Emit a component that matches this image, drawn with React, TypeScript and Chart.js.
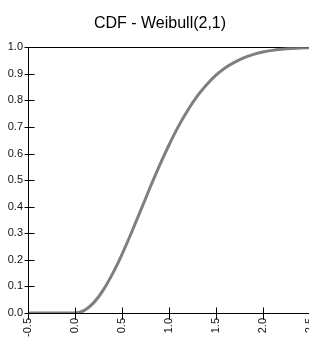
import React, { useEffect, useRef } from "react";
import { Chart, registerables } from "chart.js";

Chart.register(...registerables);

const TITLE = "CDF - Weibull(2,1)";
const xValues = [
  -0.5, -0.4, -0.3, -0.2, -0.1, 0.0, 0.1, 0.2, 0.3, 0.4, 0.5, 0.6, 0.7, 0.8, 0.9, 1.0,
  1.1, 1.2, 1.3, 1.4, 1.5, 1.6, 1.7, 1.8, 1.9, 2.0, 2.1, 2.2, 2.3, 2.4, 2.5,
];
const cdfValues = [
  0, 0, 0, 0, 0, 0, 0.01, 0.039, 0.086, 0.148, 0.221, 0.302, 0.387, 0.473, 0.555, 0.632,
  0.702, 0.763, 0.816, 0.859, 0.895, 0.923, 0.944, 0.961, 0.973, 0.982, 0.988, 0.992, 0.995,
  0.997, 0.998,
];
const xTickRange = [-0.5, 2.5];
const yTickRange = [0, 1];

const tickMarks = {
  id: "tickMarks",
  afterLayout(chart: any) {
    if (chart.titleBlock) {
      chart.titleBlock.left = 0;
      chart.titleBlock.right = chart.width;
    }
  },
  afterDraw(chart: any) {
    const { ctx, chartArea, scales } = chart;
    const xs = scales.x;
    const ys = scales.y;
    ctx.save();
    ctx.strokeStyle = "#000";
    ctx.lineWidth = 1;
    ctx.beginPath();
    const ax = Math.round(chartArea.left) + 0.5;
    ys.ticks.forEach((t: any) => {
      const py = Math.round(ys.getPixelForValue(t.value)) + 0.5;
      ctx.moveTo(ax - 4, py);
      ctx.lineTo(ax + 6, py);
    });
    const ay = Math.round(chartArea.bottom) + 0.5;
    xs.ticks.forEach((t: any) => {
      const px = Math.round(xs.getPixelForValue(t.value)) + 0.5;
      ctx.moveTo(px, ay - 6);
      ctx.lineTo(px, ay + 6);
    });
    ctx.stroke();
    ctx.restore();
  },
};

export default function App() {
  const ref = useRef<HTMLCanvasElement>(null);
  useEffect(() => {
    document.body.style.margin = "0";
    document.body.style.overflow = "hidden";
    const chart = new Chart(ref.current!, {
      type: "line",
      data: {
        datasets: [
          {
            data: xValues.map((x, i) => ({ x, y: cdfValues[i] })),
            borderColor: "#7f7f7f",
            borderWidth: 3,
            pointRadius: 0,
            cubicInterpolationMode: "monotone",
            fill: false,
          },
        ],
      },
      options: {
        animation: false,
        responsive: false,
        devicePixelRatio: 1,
        layout: { autoPadding: false, padding: { left: 0, right: 10, top: 0, bottom: 0 } },
        plugins: {
          legend: { display: false },
          tooltip: { enabled: false },
          title: {
            display: true,
            text: TITLE,
            color: "#000",
            font: { family: "Liberation Sans, Arial", size: 16, weight: "normal" },
            padding: { top: 14, bottom: 14 },
          },
        },
        scales: {
          x: {
            type: "linear",
            min: xTickRange[0],
            max: xTickRange[1],
            afterFit: (s: any) => {
              s.height = 24;
              s.paddingLeft = 0;
              s.paddingRight = 0;
            },
            ticks: {
              stepSize: 0.5,
              minRotation: 90,
              maxRotation: 90,
              padding: 5,
              color: "#111",
              font: { family: "Liberation Sans, Arial", size: 11 },
              callback: (v: any) => Number(v).toFixed(1),
            },
            grid: { display: false, drawTicks: false },
            border: { display: true, color: "#000", width: 1 },
          },
          y: {
            min: yTickRange[0],
            max: yTickRange[1],
            afterFit: (s: any) => {
              s.width = 28;
              s.paddingTop = 0;
              s.paddingBottom = 0;
            },
            ticks: {
              stepSize: 0.1,
              padding: 5,
              color: "#111",
              font: { family: "Liberation Sans, Arial", size: 11 },
              callback: (v: any) => Number(v).toFixed(1),
            },
            grid: {
              display: true,
              drawTicks: false,
              color: (c: any) => (c.tick && c.tick.value === 1 ? "#000" : "rgba(0,0,0,0)"),
            },
            border: { display: true, color: "#000", width: 1 },
          },
        },
      },
      plugins: [tickMarks],
    });
    return () => chart.destroy();
  }, []);
  return (
    <div style={{ width: 309, height: 337, overflow: "hidden", background: "#fff" }}>
      <canvas ref={ref} width={320} height={337} style={{ display: "block" }} />
    </div>
  );
}
